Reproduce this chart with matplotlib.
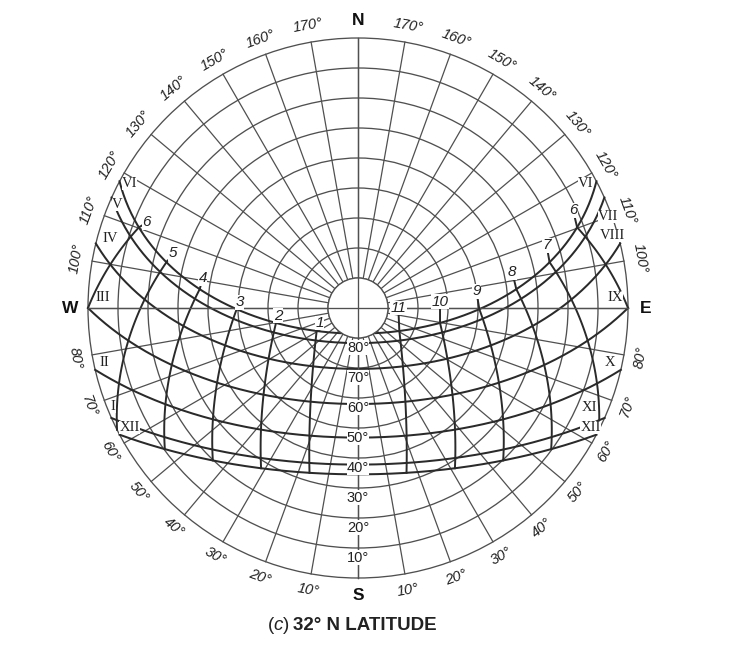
import numpy as np
import matplotlib
matplotlib.use('Agg')
import matplotlib.pyplot as plt
from matplotlib.patches import Circle

plt.rcParams['mathtext.fontset'] = 'custom'
plt.rcParams['mathtext.it'] = 'Liberation Sans:italic'
plt.rcParams['mathtext.rm'] = 'Liberation Sans'

LAT = 32.0

# sun declination for the monthly paths (21st of month)
declinations = [23.45, 20.3, 11.7, 0.0, -11.2, -20.2, -23.45]
left_months = ['VI', 'V', 'IV', 'III', 'II', 'I', 'XII']
right_months = ['VI', 'VII', 'VIII', 'IX', 'X', 'XI', 'XII']

# hour angles of the hour lines (negative = morning, east side)
hour_angles = [-90, -75, -60, -45, -30, -15, 15, 30, 45, 60, 75, 90]
hour_labels = ['6', '7', '8', '9', '10', '11', '1', '2', '3', '4', '5', '6']

altitudes = [80, 70, 60, 50, 40, 30, 20, 10]
azimuth_labels = [a for a in range(10, 180, 10) if a != 90]  # from south

# label nudges in image pixels (dx right, dy down)
hour_nudge = [(-4, -17), (-3, -17), (-4, -17), (-3, -18), (0, -21), (-1, -23),
              (3, -8), (2, -7), (3, -7), (3, -11), (6, -9), (8, -5)]
left_nudge = [(10, 2), (6, 7), (14, -5), (15, -11), (9, -7), (2, -11), (10, -7)]
right_nudge = [(-11, 2), (4, 19), (-8, -8), (-13, -11), (-11, -7), (-15, -10), (-6, -7)]

GRID = '#505050'
DARK = '#2a2a2a'
TXT = '#222222'
SANS = ['Liberation Sans', 'DejaVu Sans']


def sun_pos(dec, h):
    lat = np.radians(LAT)
    d = np.radians(dec)
    hr = np.radians(h)
    sin_alt = np.sin(lat) * np.sin(d) + np.cos(lat) * np.cos(d) * np.cos(hr)
    alt = np.arcsin(np.clip(sin_alt, -1, 1))
    cos_az = (np.sin(d) - np.sin(lat) * sin_alt) / (np.cos(lat) * np.cos(alt))
    az = np.arccos(np.clip(cos_az, -1, 1))
    az = np.where(hr > 0, 2 * np.pi - az, az)  # afternoon -> west
    return np.degrees(alt), np.degrees(az)


def project(alt, az):
    # equidistant polar projection, north up, east right
    r = 90 - np.asarray(alt)
    a = np.radians(az)
    return r * np.sin(a), r * np.cos(a)


fig = plt.figure(figsize=(7.42, 6.52), dpi=100)
ax = fig.add_axes([0, 0, 1, 1])
ax.set_xlim(-358 / 3, 384 / 3)
ax.set_ylim(-344 / 3, 308 / 3)
ax.set_aspect('equal')
ax.axis('off')

# altitude circles
for r in range(10, 100, 10):
    ax.add_patch(Circle((0, 0), r, fill=False, ec=GRID, lw=0.95, zorder=1))

# azimuth radials from the 80 deg circle out
for a in range(0, 360, 10):
    x, y = project([80, 0], [a, a])
    ax.plot(x, y, color=GRID, lw=0.9, zorder=1)

# monthly sun paths
for dec in declinations:
    h0 = np.degrees(np.arccos(-np.tan(np.radians(LAT)) * np.tan(np.radians(dec))))
    hs = np.linspace(-h0, h0, 400)
    alt, az = sun_pos(dec, hs)
    x, y = project(np.maximum(alt, 0), az)
    ax.plot(x, y, color=DARK, lw=1.45, zorder=2)

# hour lines
for i, h in enumerate(hour_angles):
    dec0 = np.degrees(np.arctan(-np.cos(np.radians(h)) / np.tan(np.radians(LAT))))
    lo = max(min(declinations), dec0)
    decs = np.linspace(lo, max(declinations), 80)
    alt, az = sun_pos(decs, h)
    x, y = project(np.maximum(alt, 0), az)
    ax.plot(x, y, color=DARK, lw=1.4, zorder=2)
    dx, dy = hour_nudge[i]
    ax.annotate(hour_labels[i], (x[-1], y[-1]), xytext=(dx, -dy),
                textcoords='offset pixels', ha='center', va='center',
                fontsize=11, style='italic', family=SANS, color=TXT,
                bbox=dict(fc='white', ec='none', pad=0.3),
                arrowprops=dict(arrowstyle='-', color=DARK, lw=1.4,
                                shrinkA=0, shrinkB=0), zorder=7)

# month labels at the horizon ends of each path
for i, dec in enumerate(declinations):
    h0 = np.degrees(np.arccos(-np.tan(np.radians(LAT)) * np.tan(np.radians(dec))))
    for h, name, nudge in ((h0, left_months[i], left_nudge[i]),
                           (-h0, right_months[i], right_nudge[i])):
        alt, az = sun_pos(dec, h)
        x, y = project(0, az)
        ax.annotate(name, (x, y), xytext=(nudge[0], -nudge[1]),
                    textcoords='offset pixels', ha='center', va='center',
                    fontsize=10.5, family=['Liberation Serif', 'DejaVu Serif'],
                    color=TXT, zorder=7,
                    bbox=dict(fc='white', ec='none', pad=0.05))

# white centre disc with the cross hairs through it
ax.add_patch(Circle((0, 0), 10, fc='white', ec=GRID, lw=0.95, zorder=3))
ax.plot([0, 0], [-90, 90], color=GRID, lw=0.95, zorder=4)
ax.plot([-90, 90], [0, 0], color=GRID, lw=0.95, zorder=4)

# altitude labels along the south axis
for alt in altitudes:
    ax.text(0, -(90 - alt) - 3.2, f'{alt}°', ha='center', va='center',
            fontsize=10.5, family=SANS, color=TXT, zorder=6,
            bbox=dict(fc='white', ec='none', pad=0.1))

# azimuth labels round the rim
for v in azimuth_labels:
    for a in (180 + v, 180 - v):
        x, y = project(-5.5, a)
        theta = np.degrees(np.arctan2(y, x))
        rot = theta - 90 if y > 0 else theta + 90
        ax.text(x, y, f'{v}°', ha='center', va='center', rotation=rot,
                rotation_mode='anchor', fontsize=10.5, style='italic',
                family=SANS, color=TXT)

for name, a in (('N', 0), ('E', 90), ('S', 180), ('W', 270)):
    x, y = project(-6, a)
    ax.text(x, y, name, ha='center', va='center', fontsize=12.5,
            fontweight='bold', family=SANS, color='#111111')

ax.text(-22.7, -105.7, r'($\mathit{c}$)', ha='right', va='center',
        fontsize=13.5, family=SANS, color=TXT)
ax.text(-21.8, -105.7, '32° N LATITUDE', ha='left', va='center',
        fontsize=13.5, fontweight='bold', family=SANS, color=TXT)

fig.savefig('out.png', dpi=100, facecolor='white')
